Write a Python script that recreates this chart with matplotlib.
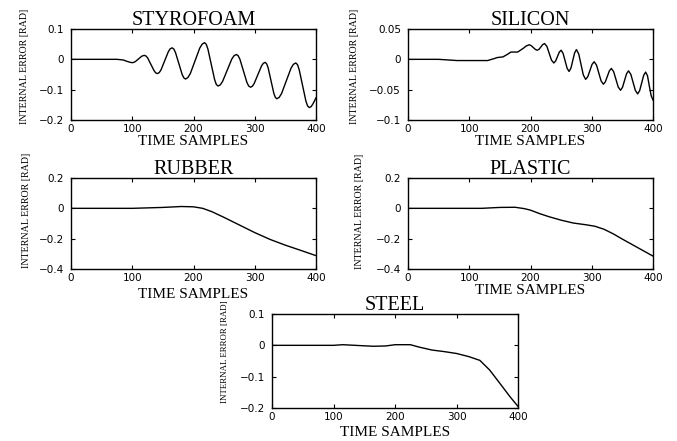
import matplotlib
matplotlib.use("Agg")
import matplotlib.pyplot as plt

# ---------------- data ----------------
styro_x = [0, 75, 85, 92, 97, 100, 102.5, 105, 110, 115, 117.5, 120, 122.6, 125.3, 130.5,
           135.8, 138.4, 141, 144, 147, 153, 159, 162, 165, 167.8, 170.5, 176, 181.5, 184.2,
           187, 190.9, 194.8, 202.5, 210.2, 214.1, 218, 220.8, 223.5, 229, 234.5, 237.2, 240,
           243.8, 247.5, 255, 262.5, 266.2, 270, 272.9, 275.8, 281.5, 287.2, 290.1, 293, 296,
           299, 305, 311, 314, 317, 319.4, 321.8, 326.5, 331.2, 333.6, 336, 339.9, 343.8,
           351.5, 359.2, 363.1, 367, 369.8, 372.5, 378, 383.5, 386.2, 389, 392, 395, 398, 400]
styro_y = [0, 0, -0.002, -0.007, -0.010, -0.011, -0.010, -0.0075, 0.001, 0.0095, 0.012, 0.013,
           0.0107, 0.0042, -0.017, -0.038, -0.0447, -0.047, -0.0438, -0.0346, -0.0045, 0.0256,
           0.0348, 0.038, 0.034, 0.023, -0.0135, -0.050, -0.061, -0.065, -0.060, -0.047,
           -0.005, 0.037, 0.050, 0.055, 0.0496, 0.034, -0.0165, -0.067, -0.0826, -0.088,
           -0.084, -0.0728, -0.036, 0.0008, 0.012, 0.016, 0.0119, 0.0002, -0.038, -0.0762,
           -0.0879, -0.092, -0.0889, -0.080, -0.051, -0.022, -0.0131, -0.010, -0.0146, -0.0276,
           -0.070, -0.1124, -0.1254, -0.130, -0.1255, -0.1127, -0.071, -0.0293, -0.0165, -0.012,
           -0.0176, -0.0335, -0.0855, -0.1375, -0.1534, -0.159, -0.156, -0.147, -0.135, -0.127]

silicon_x = [0, 50, 80, 130, 140, 146, 155, 162, 168, 179, 188, 193, 198, 201, 204.5, 208,
             211, 214, 217, 220, 223, 226.8, 230.5, 234.2, 238, 241, 244, 247, 250, 253.2,
             256.5, 259.8, 263, 266, 269, 272, 275, 278.8, 282.5, 286.2, 290, 293.5, 297,
             300.5, 304, 307.8, 311.5, 315.2, 319, 322.2, 325.5, 328.8, 332, 335.8, 339.5,
             343.2, 347, 350.2, 353.5, 356.8, 360, 363.8, 367.5, 371.2, 375, 378.2, 381.5,
             384.8, 388, 391, 394, 397, 400]
silicon_y = [0, 0, -0.002, -0.002, 0.001, 0.003, 0.004, 0.008, 0.012, 0.012, 0.018, 0.022,
             0.024, 0.0227, 0.0195, 0.0163, 0.015, 0.0166, 0.0205, 0.0244, 0.026, 0.0212,
             0.010, -0.0012, -0.006, -0.0029, 0.0045, 0.0119, 0.015, 0.0098, -0.0025, -0.0148,
             -0.020, -0.0146, -0.002, 0.0106, 0.016, 0.0087, -0.0085, -0.0257, -0.033, -0.0287,
             -0.0185, -0.0083, -0.004, -0.0096, -0.0225, -0.0355, -0.041, -0.0371, -0.028,
             -0.0189, -0.015, -0.0204, -0.033, -0.0456, -0.051, -0.0462, -0.035, -0.0238,
             -0.019, -0.0247, -0.038, -0.0513, -0.057, -0.0516, -0.039, -0.0264, -0.021,
             -0.027, -0.044, -0.060, -0.067]

rubber_x = [0, 100, 150, 180, 200, 215, 230, 250, 275, 300, 325, 350, 375, 400]
rubber_y = [0, 0, 0.006, 0.012, 0.010, 0.000, -0.022, -0.060, -0.110, -0.160, -0.205,
            -0.243, -0.277, -0.312]

plastic_x = [0, 120, 150, 175, 190, 200, 215, 230, 250, 270, 290, 305, 320, 335, 350, 375, 400]
plastic_y = [0, 0, 0.006, 0.007, -0.002, -0.012, -0.035, -0.055, -0.078, -0.097, -0.108,
             -0.118, -0.138, -0.168, -0.203, -0.259, -0.315]

steel_x = [0, 100, 115, 135, 165, 185, 200, 225, 240, 260, 280, 300, 320, 338, 354, 370, 387, 400]
steel_y = [0, 0, 0.002, 0.000, -0.003, -0.002, 0.002, 0.002, -0.006, -0.015, -0.020, -0.026,
           -0.036, -0.048, -0.079, -0.120, -0.164, -0.195]

titles = ["STYROFOAM", "SILICON", "RUBBER", "PLASTIC", "STEEL"]
ylims = [(-0.2, 0.1), (-0.1, 0.05), (-0.4, 0.2), (-0.4, 0.2), (-0.2, 0.1)]
yticks = [[-0.2, -0.1, 0, 0.1], [-0.1, -0.05, 0, 0.05], [-0.4, -0.2, 0, 0.2],
          [-0.4, -0.2, 0, 0.2], [-0.2, -0.1, 0, 0.1]]
ytick_labels = [["\u22120.2", "\u22120.1", "0", "0.1"], ["\u22120.1", "\u22120.05", "0", "0.05"],
                ["\u22120.4", "\u22120.2", "0", "0.2"], ["\u22120.4", "\u22120.2", "0", "0.2"],
                ["\u22120.2", "\u22120.1", "0", "0.1"]]
xticks = [0, 100, 200, 300, 400]
xlabel = "TIME SAMPLES"
ylabel = "INTERNAL ERROR [RAD]"

series = [(styro_x, styro_y), (silicon_x, silicon_y), (rubber_x, rubber_y),
          (plastic_x, plastic_y), (steel_x, steel_y)]

# ---------------- layout ----------------
W, H = 677, 441
fig = plt.figure(figsize=(W / 100, H / 100), dpi=100)
# pixel boxes: left, top, right, bottom
boxes = [(71, 29, 316, 120), (408, 29, 653, 120), (71, 178, 316, 269),
         (408, 178, 653, 269), (272, 314, 518, 408)]
ylab_pos = [(-0.19, 0.59), (-0.22, 0.59), (-0.18, 0.64), (-0.20, 0.63), (-0.19, 0.60)]
ylab_size = [7.2, 7.2, 7.2, 7.2, 6.4]
xlab_off = [21, 21, 25, 21, 25]

serif = "Liberation Serif"
for i, (b, (xs, ys)) in enumerate(zip(boxes, series)):
    l, t, r, btm = b
    ax = fig.add_axes([l / W, 1 - btm / H, (r - l) / W, (btm - t) / H])
    ax.plot(xs, ys, color="black", lw=1.0)
    ax.set_xlim(0, 400)
    ax.set_ylim(*ylims[i])
    ax.set_xticks(xticks)
    ax.set_xticklabels([str(v) for v in xticks])
    ax.set_yticks(yticks[i])
    ax.set_yticklabels(ytick_labels[i])
    ax.tick_params(direction="in", top=True, right=True, length=3, width=0.8,
                   labelsize=7.5, colors="black")
    ax.tick_params(axis="x", pad=3)
    ax.tick_params(axis="y", pad=5)
    for s in ax.spines.values():
        s.set_linewidth(1.0)
    ax.set_title(titles[i], fontfamily=serif, fontsize=14.5, pad=3)
    h = btm - t
    ax.text(0.5, -xlab_off[i] / h, xlabel, transform=ax.transAxes, ha="center",
            va="center", fontfamily=serif, fontsize=11)
    ax.text(ylab_pos[i][0], ylab_pos[i][1], ylabel, transform=ax.transAxes,
            rotation=90, ha="center", va="center", fontfamily=serif,
            fontsize=ylab_size[i])

fig.savefig("out.png", dpi=100)
